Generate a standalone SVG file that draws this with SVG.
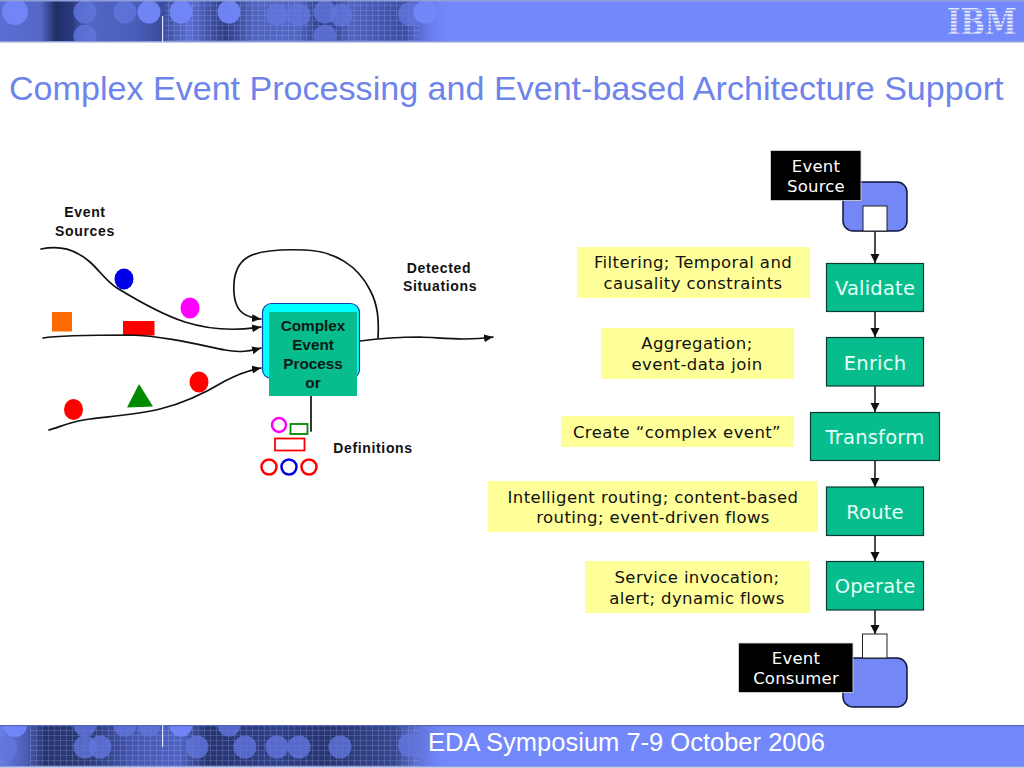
<svg xmlns="http://www.w3.org/2000/svg" width="1024" height="768" viewBox="0 0 1024 768">
<style>
.sans{font-family:"Liberation Sans",Arial,sans-serif}
.lbl{font-family:"Liberation Sans",Arial,sans-serif;font-weight:bold;font-size:14px;fill:#111;text-anchor:middle;letter-spacing:.65px}
.ver{font-family:"DejaVu Sans",Verdana,sans-serif;text-anchor:middle}
.note{fill:#ffff99}
.note-t{font-size:16.5px;letter-spacing:.4px;fill:#111}
.step{fill:#08bd8d;stroke:#0a3a32;stroke-width:1.2}
.step-t{font-size:19.5px;letter-spacing:.2px;fill:#e6fff6}
.blk{fill:#000;stroke:#ddd;stroke-width:.8}
.blk-t{font-size:16.5px;letter-spacing:.2px;fill:#fff}
.end{fill:#7387f7;stroke:#10143c;stroke-width:1.5}
.port{fill:#fff;stroke:#222;stroke-width:1}
.curve{fill:none;stroke:#111;stroke-width:1.7;stroke-linecap:round}
.dir{marker-end:url(#tip)}
.link{fill:none;stroke:#111;stroke-width:1.5;marker-end:url(#tip2)}
.lc{fill:#7388fa;opacity:.92}
.dc{fill:#6275dc;opacity:.8}
</style>
<defs>
<marker id="tip" markerUnits="userSpaceOnUse" markerWidth="11" markerHeight="10" refX="9" refY="4" orient="auto"><path d="M0 0L9 4L0 8Z" fill="#111"/></marker>
<marker id="tip2" markerUnits="userSpaceOnUse" markerWidth="11" markerHeight="10" refX="9" refY="4.5" orient="auto"><path d="M0 0L9 4.500L0 9Z" fill="#111"/></marker>
<linearGradient id="fade" x1="0" x2="1" y1="0" y2="0">
<stop offset="0" stop-color="#5a6dd2"/><stop offset=".09" stop-color="#5568c8"/><stop offset=".125" stop-color="#1f2d66"/><stop offset=".16" stop-color="#2a3a80"/><stop offset=".2" stop-color="#5266c4"/><stop offset=".3" stop-color="#4a5dba"/><stop offset=".36" stop-color="#3a4c9c"/><stop offset=".42" stop-color="#5c70d4"/><stop offset=".5" stop-color="#2d3d85"/><stop offset=".56" stop-color="#4f63c0"/><stop offset=".66" stop-color="#5266c6"/><stop offset=".72" stop-color="#2a3a80"/><stop offset=".78" stop-color="#5063c2"/><stop offset=".9" stop-color="#3a4ca4"/><stop offset="1" stop-color="#7388fa" stop-opacity="0"/>
</linearGradient>
<linearGradient id="fade2" x1="0" x2="1" y1="0" y2="0">
<stop offset="0" stop-color="#6a7fe8"/><stop offset=".06" stop-color="#4a5cb4"/><stop offset=".1" stop-color="#26346f"/><stop offset=".2" stop-color="#2a3a78"/><stop offset=".3" stop-color="#4658b4"/><stop offset=".4" stop-color="#4f63c4"/><stop offset=".46" stop-color="#26346f"/><stop offset=".62" stop-color="#2f3f88"/><stop offset=".72" stop-color="#26346f"/><stop offset=".88" stop-color="#35468f"/><stop offset="1" stop-color="#7388fa" stop-opacity="0"/>
</linearGradient>
<pattern id="grid" width="6" height="5" patternUnits="userSpaceOnUse"><path d="M0 .5H6M.5 0V5" stroke="#b8c4f5" stroke-width=".5" opacity=".4" fill="none"/></pattern>
<pattern id="ibmbar" width="4" height="3.4" patternUnits="userSpaceOnUse"><rect width="4" height="2.1" fill="#e6e9fa"/></pattern>
<clipPath id="topclip"><rect x="0" y="1" width="1024" height="41"/></clipPath>
<clipPath id="botclip"><rect x="0" y="725" width="1024" height="42"/></clipPath>
</defs>
<rect width="1024" height="768" fill="#fff"/>

<g id="top-band">
<rect x="0" y="0" width="1024" height="42" fill="#7388fa"/>
<g clip-path="url(#topclip)">
<rect x="0" y="1" width="450" height="41" fill="url(#fade)"/>
<rect x="165" y="1" width="255" height="41" fill="url(#grid)"/>
<circle class="lc" cx="15" cy="12" r="13"/><circle class="dc" cx="85" cy="12" r="11.500"/><circle class="dc" cx="85" cy="36" r="11.500"/><circle class="dc" cx="125" cy="12" r="11.500"/><circle class="lc" cx="149" cy="12" r="11.500"/><circle class="lc" cx="181" cy="12" r="11.500"/><circle class="lc" cx="229" cy="12" r="11.500"/><circle class="dc" cx="277" cy="15" r="11.500"/><circle class="dc" cx="299" cy="15" r="11.500"/><circle class="dc" cx="325" cy="12" r="11.500"/><circle class="dc" cx="325" cy="36" r="11.500"/><circle class="dc" cx="341" cy="15" r="11.500"/><circle class="dc" cx="410" cy="14" r="12"/><circle class="lc" cx="425" cy="12" r="11.500"/>
</g>
<rect x="0" y="0" width="1024" height="1.500" fill="#8e9ed6"/>
<rect x="0" y="41" width="1024" height="1.500" fill="#8e9ed6"/>
<rect x="162" y="16" width="1.200" height="26" fill="#dfe4fa"/>
<text transform="translate(947,35) scale(.8,1.02)" x="0" y="0" font-family="'DejaVu Serif',serif" font-weight="bold" font-size="36" fill="url(#ibmbar)">IBM</text>
</g>

<g id="bottom-band">
<rect x="0" y="725" width="1024" height="42" fill="#7388fa"/>
<g clip-path="url(#botclip)">
<rect x="0" y="725" width="450" height="42" fill="url(#fade2)"/>
<rect x="30" y="725" width="390" height="42" fill="url(#grid)"/>
<circle class="dc" cx="5" cy="748" r="12"/><circle class="lc" cx="15" cy="725" r="12"/><circle class="dc" cx="85" cy="725" r="11.500"/><circle class="dc" cx="85" cy="747" r="11.500"/><circle class="dc" cx="100" cy="747" r="11.500"/><circle class="dc" cx="125" cy="725" r="11.500"/><circle class="dc" cx="149" cy="725" r="11.500"/><circle class="lc" cx="181" cy="725" r="11.500"/><circle class="dc" cx="229" cy="725" r="11.500"/><circle class="dc" cx="197" cy="747" r="11.500"/><circle class="dc" cx="245" cy="747" r="11.500"/><circle class="dc" cx="277" cy="747" r="11.500"/><circle class="dc" cx="299" cy="747" r="11.500"/><circle class="dc" cx="340" cy="747" r="11.500"/><circle class="dc" cx="410" cy="745" r="12"/>
</g>
<rect x="0" y="725" width="1024" height="1.200" fill="#5266b8"/>
<rect x="0" y="766" width="1024" height="1.500" fill="#8e9ed6"/>
<rect x="162" y="725" width="1.200" height="22" fill="#dfe4fa"/>
<text x="428" y="750.500" class="sans" font-size="25.500" fill="#fff">EDA Symposium 7-9 October 2006</text>
</g>

<text id="title" x="9" y="99.500" class="sans" font-size="34.100" fill="#6e84ec">Complex Event Processing and Event-based Architecture Support</text>

<g id="event-shapes">
<ellipse cx="124" cy="279" rx="9.500" ry="10.500" fill="#0000e6"/>
<ellipse cx="190" cy="308" rx="9.500" ry="10.500" fill="#ff00ff"/>
<rect x="52" y="312" width="20" height="19.500" fill="#ff6a00"/>
<rect x="123" y="321" width="31.500" height="14.500" fill="#ff0000"/>
<path d="M127 407.500L139 384L153 406.500Z" fill="#008a00"/>
<ellipse cx="73.500" cy="409.500" rx="9.500" ry="10.500" fill="#ff0000"/>
<ellipse cx="199" cy="382" rx="9.500" ry="10.500" fill="#ff0000"/>
</g>

<g id="cep-connectors">
<path class="curve dir" d="M41 249C60 245 75 249 90 262C100 271 106 281 117 288C135 299 160 314 185 322C210 330 235 331 261 327"/>
<path class="curve dir" d="M43 338C60 335 95 335 130 335C165 336 200 345 225 350C240 353 250 351 261 348"/>
<path class="curve dir" d="M49 430C60 427 72 421 90 419C115 416 140 414 160 409C185 403 205 393 225 381C238 374 250 370 261 368"/>
<path class="curve dir" d="M378 338C379 320 378 305 370 290C358 266 335 251 305 250C280 249 260 250 248 257C236 264 233 278 234 293C235 307 240 317 261 319"/>
<path class="curve dir" d="M360 341C375 339 390 337 420 337C445 338 465 341 493 337"/>
<path class="curve" d="M311 396V431"/>
</g>

<g id="cep">
<rect x="262.500" y="303.500" width="97" height="75" rx="9" fill="#00ffff" stroke="#1040b0" stroke-width="1.200"/>
<rect x="269" y="312" width="88" height="84" fill="#08bd8d"/>
<g font-family="'Liberation Sans',Arial,sans-serif" font-weight="bold" font-size="15.300" fill="#0a1a14" text-anchor="middle">
<text x="313" y="331">Complex</text><text x="313" y="350">Event</text><text x="313" y="369">Process</text><text x="313" y="388">or</text>
</g>
</g>

<g id="definitions-shapes" fill="none" stroke-width="2.500">
<circle cx="279" cy="425" r="7" stroke="#ff00ff"/>
<rect x="290.500" y="424" width="17" height="10" stroke="#008a00" stroke-width="1.800"/>
<rect x="275" y="438.500" width="29.500" height="12" stroke="#ff0000" stroke-width="1.800"/>
<circle cx="269" cy="467" r="7.500" stroke="#ff0000"/>
<circle cx="289" cy="467" r="7.500" stroke="#0000e6"/>
<circle cx="309" cy="467" r="7.500" stroke="#ff0000"/>
</g>

<g id="left-labels">
<text class="lbl" x="85" y="217">Event</text><text class="lbl" x="85" y="236">Sources</text>
<text class="lbl" x="439" y="273">Detected</text><text class="lbl" x="440" y="291">Situations</text>
<text class="lbl" x="373" y="453">Definitions</text>
</g>

<g id="connectors">
<path class="link" d="M875 231V263"/>
<path class="link" d="M875 311V337"/>
<path class="link" d="M875 386V412"/>
<path class="link" d="M875 460V487"/>
<path class="link" d="M875 535V561"/>
<path class="link" d="M875 610V634"/>
</g>

<g id="event-source">
<rect class="end" x="843" y="182" width="64" height="49" rx="10"/>
<rect class="port" x="863" y="206" width="24" height="25"/>
<rect class="blk" x="770.500" y="150.500" width="90.500" height="50"/>
<text class="ver blk-t" x="816" y="172">Event</text><text class="ver blk-t" x="816" y="192">Source</text>
</g>
<g id="validate"><rect class="step" x="826.500" y="263.500" width="97" height="48"/><text class="ver step-t" x="875" y="295">Validate</text></g>
<g id="enrich"><rect class="step" x="826.500" y="337.500" width="97" height="48.500"/><text class="ver step-t" x="875" y="370">Enrich</text></g>
<g id="transform"><rect class="step" x="810.500" y="412.500" width="129" height="48"/><text class="ver step-t" x="875" y="444">Transform</text></g>
<g id="route"><rect class="step" x="826.500" y="487" width="97" height="48.500"/><text class="ver step-t" x="875" y="519">Route</text></g>
<g id="operate"><rect class="step" x="826.500" y="561.500" width="97" height="48.500"/><text class="ver step-t" x="875" y="593">Operate</text></g>
<g id="event-consumer">
<rect class="end" x="843" y="658" width="64" height="49" rx="10"/>
<rect class="port" x="862.500" y="634" width="24.500" height="24"/>
<rect class="blk" x="738.500" y="643" width="114.500" height="49.500"/>
<text class="ver blk-t" x="796" y="664">Event</text><text class="ver blk-t" x="796" y="684">Consumer</text>
</g>

<g id="note-filtering"><rect class="note" x="577" y="247" width="233" height="51"/><text class="ver note-t" x="693" y="268">Filtering; Temporal and</text><text class="ver note-t" x="693" y="289">causality constraints</text></g>
<g id="note-aggregation"><rect class="note" x="601" y="328" width="193" height="51"/><text class="ver note-t" x="697" y="349">Aggregation;</text><text class="ver note-t" x="697" y="370">event-data join</text></g>
<g id="note-create"><rect class="note" x="561" y="416" width="233" height="31"/><text class="ver note-t" x="677" y="438">Create “complex event”</text></g>
<g id="note-routing"><rect class="note" x="488" y="481" width="330" height="51"/><text class="ver note-t" x="653" y="503">Intelligent routing; content-based</text><text class="ver note-t" x="653" y="523">routing; event-driven flows</text></g>
<g id="note-service"><rect class="note" x="585" y="561" width="225" height="52"/><text class="ver note-t" x="697" y="583">Service invocation;</text><text class="ver note-t" x="697" y="604">alert; dynamic flows</text></g>
</svg>
